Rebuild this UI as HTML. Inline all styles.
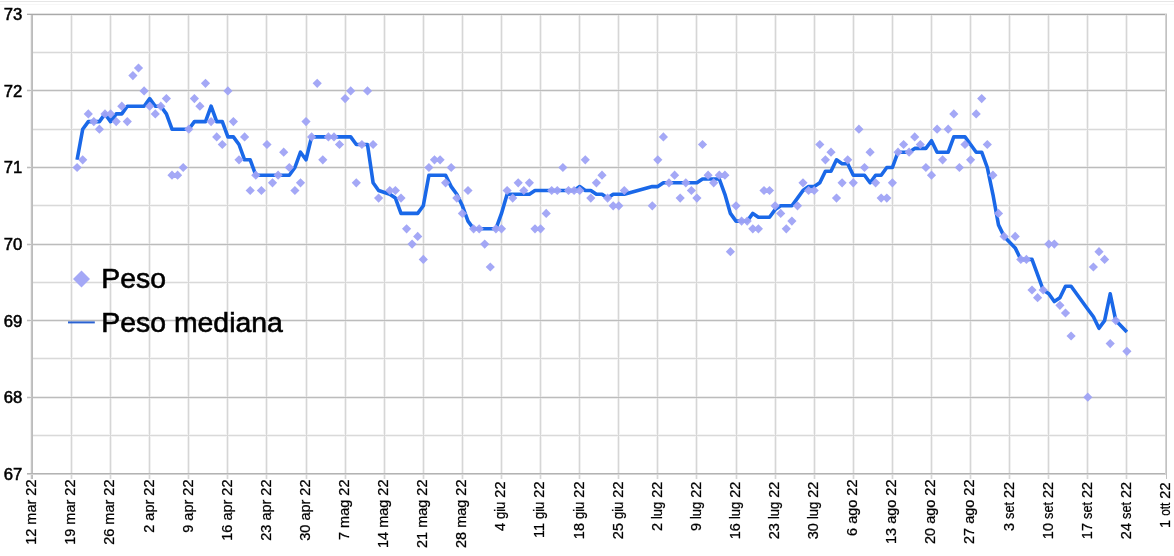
<!DOCTYPE html>
<html><head><meta charset="utf-8"><style>
html,body{margin:0;padding:0;background:#fff;width:1174px;height:556px;overflow:hidden}
svg{display:block;will-change:transform}
text{font-family:"Liberation Sans",Arial,sans-serif;fill:#000}
.yl{font-size:15.6px;stroke:#000;stroke-width:0.5px}
.xl{font-size:14.5px;stroke:#000;stroke-width:0.25px}
.lg{font-size:28.4px;stroke:#000;stroke-width:0.6px}
</style></head><body>
<svg width="1174" height="556" viewBox="0 0 1174 556">
<rect x="70" y="15" width="1" height="464" fill="#f1f1f1"/>
<rect x="72" y="15" width="1" height="464" fill="#f1f1f1"/>
<rect x="109" y="15" width="1" height="464" fill="#f1f1f1"/>
<rect x="111" y="15" width="1" height="464" fill="#f1f1f1"/>
<rect x="148" y="15" width="1" height="464" fill="#f1f1f1"/>
<rect x="150" y="15" width="1" height="464" fill="#f1f1f1"/>
<rect x="187" y="15" width="1" height="464" fill="#f1f1f1"/>
<rect x="189" y="15" width="1" height="464" fill="#f1f1f1"/>
<rect x="226" y="15" width="1" height="464" fill="#f1f1f1"/>
<rect x="228" y="15" width="1" height="464" fill="#f1f1f1"/>
<rect x="265" y="15" width="1" height="464" fill="#f1f1f1"/>
<rect x="267" y="15" width="1" height="464" fill="#f1f1f1"/>
<rect x="305" y="15" width="1" height="464" fill="#f1f1f1"/>
<rect x="307" y="15" width="1" height="464" fill="#f1f1f1"/>
<rect x="344" y="15" width="1" height="464" fill="#f1f1f1"/>
<rect x="346" y="15" width="1" height="464" fill="#f1f1f1"/>
<rect x="383" y="15" width="1" height="464" fill="#f1f1f1"/>
<rect x="385" y="15" width="1" height="464" fill="#f1f1f1"/>
<rect x="422" y="15" width="1" height="464" fill="#f1f1f1"/>
<rect x="424" y="15" width="1" height="464" fill="#f1f1f1"/>
<rect x="461" y="15" width="1" height="464" fill="#f1f1f1"/>
<rect x="463" y="15" width="1" height="464" fill="#f1f1f1"/>
<rect x="500" y="15" width="1" height="464" fill="#f1f1f1"/>
<rect x="502" y="15" width="1" height="464" fill="#f1f1f1"/>
<rect x="539" y="15" width="1" height="464" fill="#f1f1f1"/>
<rect x="541" y="15" width="1" height="464" fill="#f1f1f1"/>
<rect x="578" y="15" width="1" height="464" fill="#f1f1f1"/>
<rect x="580" y="15" width="1" height="464" fill="#f1f1f1"/>
<rect x="617" y="15" width="1" height="464" fill="#f1f1f1"/>
<rect x="619" y="15" width="1" height="464" fill="#f1f1f1"/>
<rect x="656" y="15" width="1" height="464" fill="#f1f1f1"/>
<rect x="658" y="15" width="1" height="464" fill="#f1f1f1"/>
<rect x="695" y="15" width="1" height="464" fill="#f1f1f1"/>
<rect x="697" y="15" width="1" height="464" fill="#f1f1f1"/>
<rect x="735" y="15" width="1" height="464" fill="#f1f1f1"/>
<rect x="737" y="15" width="1" height="464" fill="#f1f1f1"/>
<rect x="774" y="15" width="1" height="464" fill="#f1f1f1"/>
<rect x="776" y="15" width="1" height="464" fill="#f1f1f1"/>
<rect x="813" y="15" width="1" height="464" fill="#f1f1f1"/>
<rect x="815" y="15" width="1" height="464" fill="#f1f1f1"/>
<rect x="852" y="15" width="1" height="464" fill="#f1f1f1"/>
<rect x="854" y="15" width="1" height="464" fill="#f1f1f1"/>
<rect x="891" y="15" width="1" height="464" fill="#f1f1f1"/>
<rect x="893" y="15" width="1" height="464" fill="#f1f1f1"/>
<rect x="930" y="15" width="1" height="464" fill="#f1f1f1"/>
<rect x="932" y="15" width="1" height="464" fill="#f1f1f1"/>
<rect x="969" y="15" width="1" height="464" fill="#f1f1f1"/>
<rect x="971" y="15" width="1" height="464" fill="#f1f1f1"/>
<rect x="1008" y="15" width="1" height="464" fill="#f1f1f1"/>
<rect x="1010" y="15" width="1" height="464" fill="#f1f1f1"/>
<rect x="1047" y="15" width="1" height="464" fill="#f1f1f1"/>
<rect x="1049" y="15" width="1" height="464" fill="#f1f1f1"/>
<rect x="1086" y="15" width="1" height="464" fill="#f1f1f1"/>
<rect x="1088" y="15" width="1" height="464" fill="#f1f1f1"/>
<rect x="1125" y="15" width="1" height="464" fill="#f1f1f1"/>
<rect x="1127" y="15" width="1" height="464" fill="#f1f1f1"/>
<rect x="33" y="51" width="1132" height="1" fill="#f4f4f4"/>
<rect x="33" y="53" width="1132" height="1" fill="#f4f4f4"/>
<rect x="33" y="128" width="1132" height="1" fill="#f4f4f4"/>
<rect x="33" y="130" width="1132" height="1" fill="#f4f4f4"/>
<rect x="33" y="204" width="1132" height="1" fill="#f4f4f4"/>
<rect x="33" y="206" width="1132" height="1" fill="#f4f4f4"/>
<rect x="33" y="281" width="1132" height="1" fill="#f4f4f4"/>
<rect x="33" y="283" width="1132" height="1" fill="#f4f4f4"/>
<rect x="33" y="357" width="1132" height="1" fill="#f4f4f4"/>
<rect x="33" y="359" width="1132" height="1" fill="#f4f4f4"/>
<rect x="33" y="434" width="1132" height="1" fill="#f4f4f4"/>
<rect x="33" y="436" width="1132" height="1" fill="#f4f4f4"/>
<rect x="27" y="89" width="1138" height="1" fill="#ececec"/>
<rect x="27" y="91" width="1138" height="1" fill="#ececec"/>
<rect x="27" y="166" width="1138" height="1" fill="#ececec"/>
<rect x="27" y="168" width="1138" height="1" fill="#ececec"/>
<rect x="27" y="243" width="1138" height="1" fill="#ececec"/>
<rect x="27" y="245" width="1138" height="1" fill="#ececec"/>
<rect x="27" y="319" width="1138" height="1" fill="#ececec"/>
<rect x="27" y="321" width="1138" height="1" fill="#ececec"/>
<rect x="27" y="396" width="1138" height="1" fill="#ececec"/>
<rect x="27" y="398" width="1138" height="1" fill="#ececec"/>
<rect x="27" y="13" width="1140" height="1" fill="#e4e4e4"/>
<rect x="33" y="15" width="1132" height="1" fill="#eeeeee"/>
<rect x="30" y="14" width="1" height="465" fill="#f0f0f0"/>
<rect x="0" y="1" width="1174" height="1" fill="#e6e6e6"/>
<rect x="0" y="4" width="1174" height="1" fill="#f7f7f7"/>
<rect x="71" y="15" width="1" height="464" fill="#d6d6d6"/>
<rect x="110" y="15" width="1" height="464" fill="#d6d6d6"/>
<rect x="149" y="15" width="1" height="464" fill="#d6d6d6"/>
<rect x="188" y="15" width="1" height="464" fill="#d6d6d6"/>
<rect x="227" y="15" width="1" height="464" fill="#d6d6d6"/>
<rect x="266" y="15" width="1" height="464" fill="#d6d6d6"/>
<rect x="306" y="15" width="1" height="464" fill="#d6d6d6"/>
<rect x="345" y="15" width="1" height="464" fill="#d6d6d6"/>
<rect x="384" y="15" width="1" height="464" fill="#d6d6d6"/>
<rect x="423" y="15" width="1" height="464" fill="#d6d6d6"/>
<rect x="462" y="15" width="1" height="464" fill="#d6d6d6"/>
<rect x="501" y="15" width="1" height="464" fill="#d6d6d6"/>
<rect x="540" y="15" width="1" height="464" fill="#d6d6d6"/>
<rect x="579" y="15" width="1" height="464" fill="#d6d6d6"/>
<rect x="618" y="15" width="1" height="464" fill="#d6d6d6"/>
<rect x="657" y="15" width="1" height="464" fill="#d6d6d6"/>
<rect x="696" y="15" width="1" height="464" fill="#d6d6d6"/>
<rect x="736" y="15" width="1" height="464" fill="#d6d6d6"/>
<rect x="775" y="15" width="1" height="464" fill="#d6d6d6"/>
<rect x="814" y="15" width="1" height="464" fill="#d6d6d6"/>
<rect x="853" y="15" width="1" height="464" fill="#d6d6d6"/>
<rect x="892" y="15" width="1" height="464" fill="#d6d6d6"/>
<rect x="931" y="15" width="1" height="464" fill="#d6d6d6"/>
<rect x="970" y="15" width="1" height="464" fill="#d6d6d6"/>
<rect x="1009" y="15" width="1" height="464" fill="#d6d6d6"/>
<rect x="1048" y="15" width="1" height="464" fill="#d6d6d6"/>
<rect x="1087" y="15" width="1" height="464" fill="#d6d6d6"/>
<rect x="1126" y="15" width="1" height="464" fill="#d6d6d6"/>
<rect x="33" y="52" width="1132" height="1" fill="#d9d9d9"/>
<rect x="33" y="129" width="1132" height="1" fill="#d9d9d9"/>
<rect x="33" y="205" width="1132" height="1" fill="#d9d9d9"/>
<rect x="33" y="282" width="1132" height="1" fill="#d9d9d9"/>
<rect x="33" y="358" width="1132" height="1" fill="#d9d9d9"/>
<rect x="33" y="435" width="1132" height="1" fill="#d9d9d9"/>
<rect x="27" y="90" width="1138" height="1" fill="#bcbcbc"/>
<rect x="27" y="167" width="1138" height="1" fill="#bcbcbc"/>
<rect x="27" y="244" width="1138" height="1" fill="#bcbcbc"/>
<rect x="27" y="320" width="1138" height="1" fill="#bcbcbc"/>
<rect x="27" y="397" width="1138" height="1" fill="#bcbcbc"/>
<rect x="31" y="14" width="1" height="465" fill="#c4c4c4"/>
<rect x="32" y="14" width="1" height="465" fill="#bcbcbc"/>
<rect x="27" y="14" width="1140" height="1" fill="#a9a9a9"/>
<rect x="27" y="473" width="1140" height="1" fill="#b3b3b3"/>
<rect x="27" y="474" width="1140" height="1" fill="#d4d4d4"/>
<rect x="1165" y="14" width="1" height="461" fill="#d4d4d4"/>
<rect x="1166" y="14" width="1" height="465" fill="#c2c2c2"/>
<text transform="translate(22.4,20.3) scale(1.07,1)" text-anchor="end" class="yl">73</text>
<text transform="translate(22.4,96.8) scale(1.07,1)" text-anchor="end" class="yl">72</text>
<text transform="translate(22.4,173.4) scale(1.07,1)" text-anchor="end" class="yl">71</text>
<text transform="translate(22.4,250.0) scale(1.07,1)" text-anchor="end" class="yl">70</text>
<text transform="translate(22.4,326.5) scale(1.07,1)" text-anchor="end" class="yl">69</text>
<text transform="translate(22.4,403.1) scale(1.07,1)" text-anchor="end" class="yl">68</text>
<text transform="translate(22.4,479.7) scale(1.07,1)" text-anchor="end" class="yl">67</text>
<text transform="translate(36.2,479.5) rotate(-90)" text-anchor="end" class="xl">12 mar 22</text>
<text transform="translate(75.3,479.5) rotate(-90)" text-anchor="end" class="xl">19 mar 22</text>
<text transform="translate(114.4,479.5) rotate(-90)" text-anchor="end" class="xl">26 mar 22</text>
<text transform="translate(153.5,479.5) rotate(-90)" text-anchor="end" class="xl">2 apr 22</text>
<text transform="translate(192.6,479.5) rotate(-90)" text-anchor="end" class="xl">9 apr 22</text>
<text transform="translate(231.7,479.5) rotate(-90)" text-anchor="end" class="xl">16 apr 22</text>
<text transform="translate(270.8,479.5) rotate(-90)" text-anchor="end" class="xl">23 apr 22</text>
<text transform="translate(309.8,479.5) rotate(-90)" text-anchor="end" class="xl">30 apr 22</text>
<text transform="translate(348.9,479.5) rotate(-90)" text-anchor="end" class="xl">7 mag 22</text>
<text transform="translate(388.0,479.5) rotate(-90)" text-anchor="end" class="xl">14 mag 22</text>
<text transform="translate(427.1,479.5) rotate(-90)" text-anchor="end" class="xl">21 mag 22</text>
<text transform="translate(466.2,479.5) rotate(-90)" text-anchor="end" class="xl">28 mag 22</text>
<text transform="translate(505.3,481.5) rotate(-90)" text-anchor="end" class="xl">4 <tspan textLength="17.35" lengthAdjust="spacingAndGlyphs">giu</tspan> 22</text>
<text transform="translate(544.4,481.5) rotate(-90)" text-anchor="end" class="xl">11 <tspan textLength="17.35" lengthAdjust="spacingAndGlyphs">giu</tspan> 22</text>
<text transform="translate(583.5,481.5) rotate(-90)" text-anchor="end" class="xl">18 <tspan textLength="17.35" lengthAdjust="spacingAndGlyphs">giu</tspan> 22</text>
<text transform="translate(622.6,481.5) rotate(-90)" text-anchor="end" class="xl">25 <tspan textLength="17.35" lengthAdjust="spacingAndGlyphs">giu</tspan> 22</text>
<text transform="translate(661.6,481.6) rotate(-90)" text-anchor="end" class="xl">2 <tspan textLength="17.25" lengthAdjust="spacingAndGlyphs">lug</tspan> 22</text>
<text transform="translate(700.7,481.6) rotate(-90)" text-anchor="end" class="xl">9 <tspan textLength="17.25" lengthAdjust="spacingAndGlyphs">lug</tspan> 22</text>
<text transform="translate(739.8,481.6) rotate(-90)" text-anchor="end" class="xl">16 <tspan textLength="17.25" lengthAdjust="spacingAndGlyphs">lug</tspan> 22</text>
<text transform="translate(778.9,481.6) rotate(-90)" text-anchor="end" class="xl">23 <tspan textLength="17.25" lengthAdjust="spacingAndGlyphs">lug</tspan> 22</text>
<text transform="translate(818.0,481.6) rotate(-90)" text-anchor="end" class="xl">30 <tspan textLength="17.25" lengthAdjust="spacingAndGlyphs">lug</tspan> 22</text>
<text transform="translate(857.1,479.5) rotate(-90)" text-anchor="end" class="xl">6 ago 22</text>
<text transform="translate(896.2,479.5) rotate(-90)" text-anchor="end" class="xl">13 ago 22</text>
<text transform="translate(935.3,479.5) rotate(-90)" text-anchor="end" class="xl">20 ago 22</text>
<text transform="translate(974.4,479.5) rotate(-90)" text-anchor="end" class="xl">27 ago 22</text>
<text transform="translate(1013.5,481.8) rotate(-90)" text-anchor="end" class="xl">3 <tspan textLength="17.04" lengthAdjust="spacingAndGlyphs">set</tspan> 22</text>
<text transform="translate(1052.6,481.8) rotate(-90)" text-anchor="end" class="xl">10 <tspan textLength="17.04" lengthAdjust="spacingAndGlyphs">set</tspan> 22</text>
<text transform="translate(1091.6,481.8) rotate(-90)" text-anchor="end" class="xl">17 <tspan textLength="17.04" lengthAdjust="spacingAndGlyphs">set</tspan> 22</text>
<text transform="translate(1130.7,481.8) rotate(-90)" text-anchor="end" class="xl">24 <tspan textLength="17.04" lengthAdjust="spacingAndGlyphs">set</tspan> 22</text>
<text transform="translate(1169.8,482.5) rotate(-90)" text-anchor="end" class="xl">1 <tspan textLength="13.12" lengthAdjust="spacingAndGlyphs">ott</tspan> 22</text>
<polyline fill="none" stroke="#1a68e8" stroke-width="3.6" stroke-linejoin="round" points="77.1,159.8 82.7,129.2 88.3,121.6 93.8,121.6 99.4,121.6 105.0,113.9 110.6,121.6 116.2,113.9 121.8,113.9 127.3,106.2 132.9,106.2 138.5,106.2 144.1,106.2 149.7,98.6 155.3,106.2 160.8,106.2 166.4,113.9 172.0,129.2 177.6,129.2 183.2,129.2 188.8,129.2 194.4,121.6 199.9,121.6 205.5,121.6 211.1,106.2 216.7,121.6 222.3,121.6 227.9,136.9 233.4,136.9 239.0,144.5 244.6,159.8 250.2,159.8 255.8,175.2 261.4,175.2 267.0,175.2 272.5,175.2 278.1,175.2 283.7,175.2 289.3,175.2 294.9,167.5 300.5,152.2 306.0,159.8 311.6,136.9 317.2,136.9 322.8,136.9 328.4,136.9 334.0,136.9 339.5,136.9 345.1,136.9 350.7,136.9 356.3,144.5 361.9,144.5 367.5,144.5 373.1,182.8 378.6,190.5 389.8,194.3 395.4,198.1 401.0,213.4 406.6,213.4 412.1,213.4 417.7,213.4 423.3,205.8 428.9,175.2 434.5,175.2 440.1,175.2 445.6,175.2 451.2,186.6 456.8,194.3 462.4,205.8 468.0,221.1 473.6,228.8 479.2,228.8 484.7,228.8 490.3,228.8 495.9,228.8 501.5,213.4 507.1,194.3 512.7,194.3 518.2,194.3 523.8,194.3 529.4,194.3 535.0,190.5 540.6,190.5 546.2,190.5 551.7,190.5 557.3,190.5 562.9,190.5 568.5,190.5 574.1,190.5 579.7,186.6 585.3,190.5 590.8,190.5 596.4,194.3 602.0,194.3 607.6,198.1 613.2,194.3 618.8,194.3 624.3,194.3 652.3,186.6 657.8,186.6 663.4,182.8 669.0,182.8 674.6,182.8 680.2,182.8 685.8,182.8 691.4,182.8 696.9,182.8 702.5,179.0 708.1,179.0 713.7,179.0 719.3,179.0 724.9,194.3 730.4,213.4 736.0,221.1 741.6,221.1 747.2,221.1 752.8,213.4 758.4,217.3 764.0,217.3 769.5,217.3 775.1,209.6 780.7,205.8 786.3,205.8 791.9,205.8 797.5,198.1 803.0,190.5 808.6,186.6 814.2,186.6 819.8,182.8 825.4,171.3 831.0,171.3 836.5,159.8 842.1,163.7 847.7,163.7 853.3,175.2 858.9,175.2 864.5,175.2 870.1,182.8 875.6,175.2 881.2,175.2 886.8,167.5 892.4,167.5 898.0,152.2 903.6,152.2 909.1,152.2 914.7,148.4 920.3,148.4 925.9,148.4 931.5,140.7 937.1,152.2 942.6,152.2 948.2,152.2 953.8,136.9 959.4,136.9 965.0,136.9 970.6,144.5 976.2,152.2 981.7,152.2 987.3,167.5 992.9,194.3 998.5,224.9 1004.1,236.4 1015.2,247.9 1020.8,259.4 1026.4,259.4 1032.0,259.4 1037.6,274.7 1043.2,290.0 1048.8,293.8 1054.3,301.5 1059.9,297.7 1065.5,286.2 1071.1,286.2 1087.8,309.2 1093.4,316.8 1099.0,328.3 1104.6,320.6 1110.2,293.8 1115.8,320.6 1126.9,332.1"/>
<path fill="#9fa3f6" fill-opacity="0.95" d="M77.1 162.9L81.7 167.5L77.1 172.1L72.5 167.5ZM82.7 155.2L87.3 159.8L82.7 164.4L78.1 159.8ZM88.3 109.3L92.9 113.9L88.3 118.5L83.7 113.9ZM93.8 117.0L98.4 121.6L93.8 126.2L89.2 121.6ZM99.4 124.6L104.0 129.2L99.4 133.8L94.8 129.2ZM105.0 109.3L109.6 113.9L105.0 118.5L100.4 113.9ZM110.6 109.3L115.2 113.9L110.6 118.5L106.0 113.9ZM116.2 117.0L120.8 121.6L116.2 126.2L111.6 121.6ZM121.8 101.6L126.4 106.2L121.8 110.8L117.2 106.2ZM127.3 117.0L131.9 121.6L127.3 126.2L122.7 121.6ZM132.9 71.0L137.5 75.6L132.9 80.2L128.3 75.6ZM138.5 63.4L143.1 68.0L138.5 72.6L133.9 68.0ZM144.1 86.3L148.7 90.9L144.1 95.5L139.5 90.9ZM149.7 101.6L154.3 106.2L149.7 110.8L145.1 106.2ZM155.3 109.3L159.9 113.9L155.3 118.5L150.7 113.9ZM160.8 101.6L165.4 106.2L160.8 110.8L156.2 106.2ZM166.4 94.0L171.0 98.6L166.4 103.2L161.8 98.6ZM172.0 170.6L176.6 175.2L172.0 179.8L167.4 175.2ZM177.6 170.6L182.2 175.2L177.6 179.8L173.0 175.2ZM183.2 162.9L187.8 167.5L183.2 172.1L178.6 167.5ZM188.8 124.6L193.4 129.2L188.8 133.8L184.2 129.2ZM194.4 94.0L199.0 98.6L194.4 103.2L189.8 98.6ZM199.9 101.6L204.5 106.2L199.9 110.8L195.3 106.2ZM205.5 78.7L210.1 83.3L205.5 87.9L200.9 83.3ZM211.1 117.0L215.7 121.6L211.1 126.2L206.5 121.6ZM216.7 132.3L221.3 136.9L216.7 141.5L212.1 136.9ZM222.3 139.9L226.9 144.5L222.3 149.1L217.7 144.5ZM227.9 86.3L232.5 90.9L227.9 95.5L223.3 90.9ZM233.4 117.0L238.0 121.6L233.4 126.2L228.8 121.6ZM239.0 155.2L243.6 159.8L239.0 164.4L234.4 159.8ZM244.6 132.3L249.2 136.9L244.6 141.5L240.0 136.9ZM250.2 185.9L254.8 190.5L250.2 195.1L245.6 190.5ZM255.8 170.6L260.4 175.2L255.8 179.8L251.2 175.2ZM261.4 185.9L266.0 190.5L261.4 195.1L256.8 190.5ZM267.0 139.9L271.6 144.5L267.0 149.1L262.4 144.5ZM272.5 178.2L277.1 182.8L272.5 187.4L267.9 182.8ZM278.1 170.6L282.7 175.2L278.1 179.8L273.5 175.2ZM283.7 147.6L288.3 152.2L283.7 156.8L279.1 152.2ZM289.3 162.9L293.9 167.5L289.3 172.1L284.7 167.5ZM294.9 185.9L299.5 190.5L294.9 195.1L290.3 190.5ZM300.5 178.2L305.1 182.8L300.5 187.4L295.9 182.8ZM306.0 117.0L310.6 121.6L306.0 126.2L301.4 121.6ZM311.6 132.3L316.2 136.9L311.6 141.5L307.0 136.9ZM317.2 78.7L321.8 83.3L317.2 87.9L312.6 83.3ZM322.8 155.2L327.4 159.8L322.8 164.4L318.2 159.8ZM328.4 132.3L333.0 136.9L328.4 141.5L323.8 136.9ZM334.0 132.3L338.6 136.9L334.0 141.5L329.4 136.9ZM339.5 139.9L344.1 144.5L339.5 149.1L334.9 144.5ZM345.1 94.0L349.7 98.6L345.1 103.2L340.5 98.6ZM350.7 86.3L355.3 90.9L350.7 95.5L346.1 90.9ZM356.3 178.2L360.9 182.8L356.3 187.4L351.7 182.8ZM361.9 139.9L366.5 144.5L361.9 149.1L357.3 144.5ZM367.5 86.3L372.1 90.9L367.5 95.5L362.9 90.9ZM373.1 139.9L377.7 144.5L373.1 149.1L368.5 144.5ZM378.6 193.5L383.2 198.1L378.6 202.7L374.0 198.1ZM389.8 185.9L394.4 190.5L389.8 195.1L385.2 190.5ZM395.4 185.9L400.0 190.5L395.4 195.1L390.8 190.5ZM401.0 193.5L405.6 198.1L401.0 202.7L396.4 198.1ZM406.6 224.2L411.2 228.8L406.6 233.4L402.0 228.8ZM412.1 239.5L416.7 244.1L412.1 248.7L407.5 244.1ZM417.7 231.8L422.3 236.4L417.7 241.0L413.1 236.4ZM423.3 254.8L427.9 259.4L423.3 264.0L418.7 259.4ZM428.9 162.9L433.5 167.5L428.9 172.1L424.3 167.5ZM434.5 155.2L439.1 159.8L434.5 164.4L429.9 159.8ZM440.1 155.2L444.7 159.8L440.1 164.4L435.5 159.8ZM445.6 178.2L450.2 182.8L445.6 187.4L441.0 182.8ZM451.2 162.9L455.8 167.5L451.2 172.1L446.6 167.5ZM456.8 193.5L461.4 198.1L456.8 202.7L452.2 198.1ZM462.4 208.8L467.0 213.4L462.4 218.0L457.8 213.4ZM468.0 185.9L472.6 190.5L468.0 195.1L463.4 190.5ZM473.6 224.2L478.2 228.8L473.6 233.4L469.0 228.8ZM479.2 224.2L483.8 228.8L479.2 233.4L474.6 228.8ZM484.7 239.5L489.3 244.1L484.7 248.7L480.1 244.1ZM490.3 262.4L494.9 267.0L490.3 271.6L485.7 267.0ZM495.9 224.2L500.5 228.8L495.9 233.4L491.3 228.8ZM501.5 224.2L506.1 228.8L501.5 233.4L496.9 228.8ZM507.1 185.9L511.7 190.5L507.1 195.1L502.5 190.5ZM512.7 193.5L517.3 198.1L512.7 202.7L508.1 198.1ZM518.2 178.2L522.8 182.8L518.2 187.4L513.6 182.8ZM523.8 185.9L528.4 190.5L523.8 195.1L519.2 190.5ZM529.4 178.2L534.0 182.8L529.4 187.4L524.8 182.8ZM535.0 224.2L539.6 228.8L535.0 233.4L530.4 228.8ZM540.6 224.2L545.2 228.8L540.6 233.4L536.0 228.8ZM546.2 208.8L550.8 213.4L546.2 218.0L541.6 213.4ZM551.7 185.9L556.3 190.5L551.7 195.1L547.1 190.5ZM557.3 185.9L561.9 190.5L557.3 195.1L552.7 190.5ZM562.9 162.9L567.5 167.5L562.9 172.1L558.3 167.5ZM568.5 185.9L573.1 190.5L568.5 195.1L563.9 190.5ZM574.1 185.9L578.7 190.5L574.1 195.1L569.5 190.5ZM579.7 185.9L584.3 190.5L579.7 195.1L575.1 190.5ZM585.3 155.2L589.9 159.8L585.3 164.4L580.7 159.8ZM590.8 193.5L595.4 198.1L590.8 202.7L586.2 198.1ZM596.4 178.2L601.0 182.8L596.4 187.4L591.8 182.8ZM602.0 170.6L606.6 175.2L602.0 179.8L597.4 175.2ZM607.6 193.5L612.2 198.1L607.6 202.7L603.0 198.1ZM613.2 201.2L617.8 205.8L613.2 210.4L608.6 205.8ZM618.8 201.2L623.4 205.8L618.8 210.4L614.2 205.8ZM624.3 185.9L628.9 190.5L624.3 195.1L619.7 190.5ZM652.3 201.2L656.9 205.8L652.3 210.4L647.7 205.8ZM657.8 155.2L662.4 159.8L657.8 164.4L653.2 159.8ZM663.4 132.3L668.0 136.9L663.4 141.5L658.8 136.9ZM669.0 178.2L673.6 182.8L669.0 187.4L664.4 182.8ZM674.6 170.6L679.2 175.2L674.6 179.8L670.0 175.2ZM680.2 193.5L684.8 198.1L680.2 202.7L675.6 198.1ZM685.8 178.2L690.4 182.8L685.8 187.4L681.2 182.8ZM691.4 185.9L696.0 190.5L691.4 195.1L686.8 190.5ZM696.9 193.5L701.5 198.1L696.9 202.7L692.3 198.1ZM702.5 139.9L707.1 144.5L702.5 149.1L697.9 144.5ZM708.1 170.6L712.7 175.2L708.1 179.8L703.5 175.2ZM713.7 178.2L718.3 182.8L713.7 187.4L709.1 182.8ZM719.3 170.6L723.9 175.2L719.3 179.8L714.7 175.2ZM724.9 170.6L729.5 175.2L724.9 179.8L720.3 175.2ZM730.4 247.1L735.0 251.7L730.4 256.3L725.8 251.7ZM736.0 201.2L740.6 205.8L736.0 210.4L731.4 205.8ZM741.6 216.5L746.2 221.1L741.6 225.7L737.0 221.1ZM747.2 216.5L751.8 221.1L747.2 225.7L742.6 221.1ZM752.8 224.2L757.4 228.8L752.8 233.4L748.2 228.8ZM758.4 224.2L763.0 228.8L758.4 233.4L753.8 228.8ZM764.0 185.9L768.6 190.5L764.0 195.1L759.4 190.5ZM769.5 185.9L774.1 190.5L769.5 195.1L764.9 190.5ZM775.1 201.2L779.7 205.8L775.1 210.4L770.5 205.8ZM780.7 208.8L785.3 213.4L780.7 218.0L776.1 213.4ZM786.3 224.2L790.9 228.8L786.3 233.4L781.7 228.8ZM791.9 216.5L796.5 221.1L791.9 225.7L787.3 221.1ZM797.5 201.2L802.1 205.8L797.5 210.4L792.9 205.8ZM803.0 178.2L807.6 182.8L803.0 187.4L798.4 182.8ZM808.6 185.9L813.2 190.5L808.6 195.1L804.0 190.5ZM814.2 185.9L818.8 190.5L814.2 195.1L809.6 190.5ZM819.8 139.9L824.4 144.5L819.8 149.1L815.2 144.5ZM825.4 155.2L830.0 159.8L825.4 164.4L820.8 159.8ZM831.0 147.6L835.6 152.2L831.0 156.8L826.4 152.2ZM836.5 193.5L841.1 198.1L836.5 202.7L831.9 198.1ZM842.1 178.2L846.7 182.8L842.1 187.4L837.5 182.8ZM847.7 155.2L852.3 159.8L847.7 164.4L843.1 159.8ZM853.3 178.2L857.9 182.8L853.3 187.4L848.7 182.8ZM858.9 124.6L863.5 129.2L858.9 133.8L854.3 129.2ZM864.5 162.9L869.1 167.5L864.5 172.1L859.9 167.5ZM870.1 147.6L874.7 152.2L870.1 156.8L865.5 152.2ZM875.6 178.2L880.2 182.8L875.6 187.4L871.0 182.8ZM881.2 193.5L885.8 198.1L881.2 202.7L876.6 198.1ZM886.8 193.5L891.4 198.1L886.8 202.7L882.2 198.1ZM892.4 178.2L897.0 182.8L892.4 187.4L887.8 182.8ZM898.0 147.6L902.6 152.2L898.0 156.8L893.4 152.2ZM903.6 139.9L908.2 144.5L903.6 149.1L899.0 144.5ZM909.1 147.6L913.7 152.2L909.1 156.8L904.5 152.2ZM914.7 132.3L919.3 136.9L914.7 141.5L910.1 136.9ZM920.3 139.9L924.9 144.5L920.3 149.1L915.7 144.5ZM925.9 162.9L930.5 167.5L925.9 172.1L921.3 167.5ZM931.5 170.6L936.1 175.2L931.5 179.8L926.9 175.2ZM937.1 124.6L941.7 129.2L937.1 133.8L932.5 129.2ZM942.6 155.2L947.2 159.8L942.6 164.4L938.0 159.8ZM948.2 124.6L952.8 129.2L948.2 133.8L943.6 129.2ZM953.8 109.3L958.4 113.9L953.8 118.5L949.2 113.9ZM959.4 162.9L964.0 167.5L959.4 172.1L954.8 167.5ZM965.0 139.9L969.6 144.5L965.0 149.1L960.4 144.5ZM970.6 155.2L975.2 159.8L970.6 164.4L966.0 159.8ZM976.2 109.3L980.8 113.9L976.2 118.5L971.6 113.9ZM981.7 94.0L986.3 98.6L981.7 103.2L977.1 98.6ZM987.3 139.9L991.9 144.5L987.3 149.1L982.7 144.5ZM992.9 170.6L997.5 175.2L992.9 179.8L988.3 175.2ZM998.5 208.8L1003.1 213.4L998.5 218.0L993.9 213.4ZM1004.1 231.8L1008.7 236.4L1004.1 241.0L999.5 236.4ZM1015.2 231.8L1019.8 236.4L1015.2 241.0L1010.6 236.4ZM1020.8 254.8L1025.4 259.4L1020.8 264.0L1016.2 259.4ZM1026.4 254.8L1031.0 259.4L1026.4 264.0L1021.8 259.4ZM1032.0 285.4L1036.6 290.0L1032.0 294.6L1027.4 290.0ZM1037.6 293.1L1042.2 297.7L1037.6 302.3L1033.0 297.7ZM1043.2 285.4L1047.8 290.0L1043.2 294.6L1038.6 290.0ZM1048.8 239.5L1053.4 244.1L1048.8 248.7L1044.2 244.1ZM1054.3 239.5L1058.9 244.1L1054.3 248.7L1049.7 244.1ZM1059.9 300.7L1064.5 305.3L1059.9 309.9L1055.3 305.3ZM1065.5 308.4L1070.1 313.0L1065.5 317.6L1060.9 313.0ZM1071.1 331.4L1075.7 336.0L1071.1 340.6L1066.5 336.0ZM1087.8 392.6L1092.4 397.2L1087.8 401.8L1083.2 397.2ZM1093.4 262.4L1098.0 267.0L1093.4 271.6L1088.8 267.0ZM1099.0 247.1L1103.6 251.7L1099.0 256.3L1094.4 251.7ZM1104.6 254.8L1109.2 259.4L1104.6 264.0L1100.0 259.4ZM1110.2 339.0L1114.8 343.6L1110.2 348.2L1105.6 343.6ZM1115.8 316.0L1120.4 320.6L1115.8 325.2L1111.2 320.6ZM1126.9 346.7L1131.5 351.3L1126.9 355.9L1122.3 351.3Z"/>
<path fill="#a4a8f6" d="M81.5 270.5L90 279L81.5 287.5L73 279Z"/>
<text x="0" y="0" transform="translate(101.3,288)" class="lg">Peso</text>
<rect x="68" y="321.4" width="26.8" height="2" fill="#2a62d2"/>
<text x="0" y="0" transform="translate(101.3,332)" class="lg">Peso mediana</text>
</svg>
</body></html>
